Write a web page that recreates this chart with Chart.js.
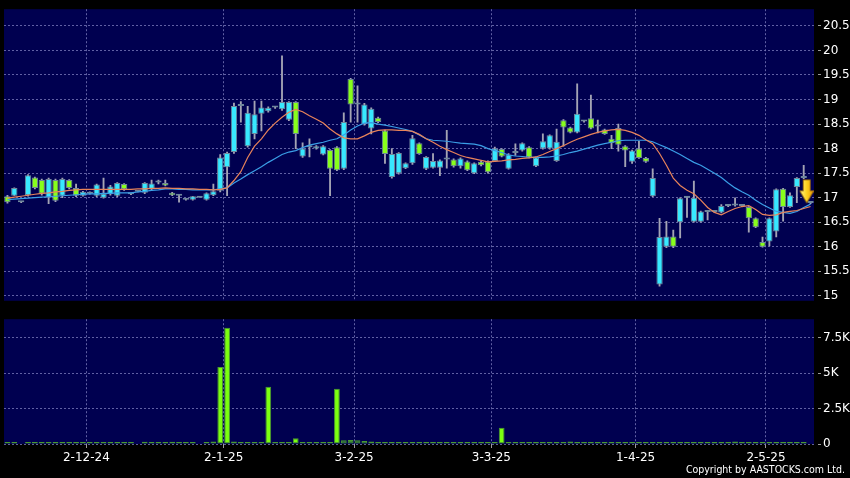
<!DOCTYPE html>
<html>
<head>
<meta charset="utf-8">
<script src="https://cdn.jsdelivr.net/npm/chart.js@4.4.1/dist/chart.umd.min.js"></script>
<style>
  html, body { margin: 0; padding: 0; background: #000; }
  body { width: 850px; height: 478px; position: relative; overflow: hidden; }
  #priceChart { position: absolute; left: 0; top: 0; }
  #volumeChart { position: absolute; left: 0; top: 310px; }
  #copyright {
    position: absolute; right: 5px; top: 463px;
    color: #fff; font: 10.5px 'DejaVu Sans Condensed', 'Liberation Sans Narrow', sans-serif;
  }
</style>
</head>
<body>
<canvas id="priceChart" width="850" height="310"></canvas>
<canvas id="volumeChart" width="850" height="168"></canvas>
<div id="copyright">Copyright by AASTOCKS.com Ltd.</div>
<script>
// daily candles
const opens = [
  17.03, 17.04, 16.91, 17.05, 17.41, 17.36, 17.00, 17.36, 17.04, 17.36,
  17.20, 17.04, 17.12, 17.04, 17.00, 17.07, 17.04, 17.28, 17.07, 17.12,
  17.10, 17.17, 17.31, 17.30, 17.10, 17.04, 16.96, 16.96, 17.00, 16.96,
  17.05, 17.14, 17.62, 17.93, 18.87, 18.05, 18.30, 18.71, 18.76, 18.84,
  18.80, 18.59, 18.95, 17.84, 18.03, 18.00, 17.88, 17.97, 18.03, 17.59,
  19.42, 18.90, 18.50, 18.41, 18.63, 18.37, 17.42, 17.50, 17.60, 17.70,
  18.11, 17.59, 17.61, 17.61, 17.78, 17.78, 17.64, 17.74, 17.50, 17.73,
  17.74, 17.75, 17.99, 17.59, 17.91, 17.96, 18.03, 17.64, 18.00, 18.00,
  17.75, 18.58, 18.43, 18.33, 18.55, 18.62, 18.45, 18.39, 18.20, 18.42,
  18.05, 17.73, 18.00, 17.81, 17.03, 15.23, 16.00, 16.21, 16.50, 17.00,
  16.51, 16.51, 16.71, 16.71, 16.70, 16.83, 16.84, 16.83, 16.81, 16.58,
  16.10, 16.11, 16.31, 17.18, 16.81, 17.22, 17.40, 16.89
];
const highs = [
  17.05, 17.20, 16.92, 17.47, 17.42, 17.38, 17.40, 17.38, 17.40, 17.37,
  17.28, 17.13, 17.12, 17.28, 17.40, 17.25, 17.31, 17.29, 17.09, 17.12,
  17.31, 17.36, 17.36, 17.36, 17.11, 17.05, 16.97, 17.03, 17.00, 17.10,
  17.28, 17.88, 17.93, 18.93, 18.96, 18.86, 18.97, 18.97, 18.85, 18.86,
  19.89, 18.96, 18.96, 18.12, 18.20, 18.06, 18.06, 17.98, 18.04, 18.73,
  19.43, 19.28, 18.92, 18.83, 18.64, 18.38, 18.00, 17.92, 17.71, 18.27,
  18.12, 17.84, 17.90, 17.77, 18.37, 17.79, 17.81, 17.75, 17.71, 17.74,
  17.75, 18.03, 18.00, 17.90, 18.10, 18.12, 18.04, 17.83, 18.30, 18.28,
  18.40, 18.59, 18.44, 19.32, 18.56, 19.09, 18.58, 18.40, 18.27, 18.50,
  18.06, 17.97, 18.15, 17.82, 17.59, 16.58, 16.52, 16.34, 17.00, 17.01,
  17.34, 16.73, 16.72, 16.72, 16.86, 16.84, 17.00, 16.84, 16.82, 16.59,
  16.20, 16.59, 17.18, 17.19, 17.10, 17.41, 17.66, 16.90
];
const lows = [
  16.89, 17.04, 16.90, 17.03, 17.18, 17.05, 16.88, 16.92, 17.00, 17.18,
  17.02, 17.03, 17.07, 17.02, 16.99, 17.05, 17.02, 17.15, 17.06, 17.12,
  17.08, 17.15, 17.28, 17.24, 17.04, 16.91, 16.95, 16.95, 17.00, 16.95,
  17.04, 17.12, 17.04, 17.90, 18.54, 18.03, 18.20, 18.36, 18.74, 18.82,
  18.78, 18.57, 18.00, 17.82, 17.83, 17.99, 17.87, 17.04, 17.55, 17.57,
  18.54, 18.54, 18.48, 18.30, 18.53, 17.70, 17.40, 17.48, 17.59, 17.68,
  17.88, 17.57, 17.60, 17.45, 17.60, 17.62, 17.60, 17.55, 17.49, 17.65,
  17.50, 17.74, 17.83, 17.58, 17.86, 17.95, 17.81, 17.63, 17.99, 17.99,
  17.74, 18.05, 18.32, 18.32, 18.54, 18.40, 18.32, 18.29, 18.00, 17.95,
  17.63, 17.70, 17.80, 17.72, 17.02, 15.20, 15.98, 15.98, 16.18, 16.60,
  16.50, 16.50, 16.55, 16.70, 16.69, 16.82, 16.83, 16.82, 16.30, 16.39,
  15.99, 16.02, 16.20, 16.52, 16.80, 16.90, 17.39, 16.88
];
const closes = [
  16.91, 17.20, 16.91, 17.46, 17.20, 17.08, 17.38, 16.94, 17.38, 17.20,
  17.04, 17.12, 17.08, 17.27, 17.08, 17.23, 17.30, 17.17, 17.07, 17.12,
  17.30, 17.29, 17.31, 17.25, 17.05, 17.04, 16.96, 17.03, 17.00, 17.09,
  17.13, 17.82, 17.91, 18.87, 18.87, 18.73, 18.70, 18.84, 18.83, 18.84,
  18.95, 18.95, 18.30, 18.00, 18.03, 18.05, 18.05, 17.59, 17.56, 18.54,
  18.90, 18.90, 18.90, 18.81, 18.54, 17.89, 17.89, 17.91, 17.70, 18.21,
  17.89, 17.83, 17.75, 17.76, 17.78, 17.64, 17.80, 17.56, 17.70, 17.66,
  17.52, 18.00, 17.84, 17.88, 17.91, 18.11, 17.82, 17.82, 18.15, 18.27,
  18.14, 18.43, 18.33, 18.71, 18.55, 18.41, 18.45, 18.30, 18.11, 18.08,
  17.96, 17.96, 17.81, 17.73, 17.40, 16.20, 16.21, 16.00, 16.99, 17.00,
  17.00, 16.72, 16.71, 16.71, 16.83, 16.83, 16.84, 16.83, 16.58, 16.40,
  16.00, 16.58, 17.17, 16.81, 17.05, 17.40, 17.44, 16.89
];
// moving averages as drawn on the picture
const maShort = [
  16.99, 17.01, 17.03, 17.05, 17.07, 17.09, 17.10, 17.12, 17.13, 17.15,
  17.16, 17.17, 17.17, 17.17, 17.17, 17.17, 17.17, 17.17, 17.17, 17.18,
  17.18, 17.19, 17.19, 17.20, 17.19, 17.19, 17.18, 17.18, 17.17, 17.17,
  17.16, 17.17, 17.20, 17.35, 17.53, 17.82, 18.05, 18.20, 18.38, 18.52,
  18.64, 18.74, 18.80, 18.75, 18.67, 18.60, 18.52, 18.40, 18.30, 18.22,
  18.20, 18.20, 18.26, 18.33, 18.37, 18.38, 18.38, 18.37, 18.37, 18.35,
  18.29, 18.20, 18.13, 18.05, 17.98, 17.92, 17.86, 17.82, 17.79, 17.76,
  17.73, 17.74, 17.75, 17.77, 17.78, 17.80, 17.81, 17.83, 17.88, 17.94,
  18.00, 18.06, 18.13, 18.19, 18.24, 18.29, 18.33, 18.36, 18.38, 18.39,
  18.37, 18.33, 18.27, 18.18, 18.10, 17.90, 17.66, 17.40, 17.25, 17.15,
  17.08, 16.95, 16.80, 16.70, 16.65, 16.72, 16.78, 16.82, 16.84, 16.76,
  16.66, 16.64, 16.65, 16.70, 16.72, 16.74, 16.78, 16.82
];
const maLong = [
  16.96, 16.97, 16.98, 16.99, 17.00, 17.01, 17.02, 17.03, 17.04, 17.05,
  17.06, 17.07, 17.08, 17.08, 17.09, 17.09, 17.10, 17.10, 17.10, 17.12,
  17.13, 17.15, 17.16, 17.18, 17.18, 17.17, 17.17, 17.16, 17.16, 17.16,
  17.16, 17.18, 17.20, 17.30, 17.38, 17.47, 17.55, 17.63, 17.72, 17.80,
  17.88, 17.93, 17.96, 18.02, 18.07, 18.10, 18.13, 18.17, 18.20, 18.28,
  18.38, 18.46, 18.52, 18.53, 18.50, 18.48, 18.45, 18.42, 18.39, 18.35,
  18.28, 18.20, 18.17, 18.16, 18.15, 18.13, 18.11, 18.10, 18.09, 18.06,
  18.00, 17.96, 17.92, 17.87, 17.85, 17.84, 17.82, 17.82, 17.82, 17.83,
  17.85, 17.88, 17.92, 17.95, 17.99, 18.03, 18.07, 18.10, 18.13, 18.16,
  18.17, 18.17, 18.17, 18.17, 18.14, 18.08, 18.02, 17.95, 17.88, 17.80,
  17.72, 17.66, 17.58, 17.50, 17.41, 17.30, 17.20, 17.12, 17.05, 16.95,
  16.86, 16.79, 16.72, 16.70, 16.68, 16.72, 16.80, 16.87
];
// volume in thousands of shares (null = nothing traded)
const volumes = [
  0.05, 0.08, null, 0.10, 0.03, 0.02, 0.02, 0.02, 0.02, 0.02,
  0.02, 0.02, 0.06, 0.06, 0.06, 0.02, 0.02, 0.03, 0.02, null,
  0.16, 0.02, 0.02, 0.03, 0.16, 0.02, 0.02, 0.03, null, 0.05,
  0.18, 5.45, 8.22, 0.18, 0.06, 0.04, 0.03, 0.05, 4.05, 0.03,
  0.10, 0.03, 0.40, 0.06, 0.06, 0.06, 0.07, 0.08, 3.90, 0.27,
  0.28, 0.27, 0.22, 0.17, 0.15, 0.12, 0.10, 0.03, 0.03, 0.10,
  0.05, 0.02, 0.06, 0.03, 0.03, 0.07, 0.02, 0.02, 0.02, 0.02,
  0.02, 0.03, 1.15, 0.02, 0.02, 0.02, 0.06, 0.07, 0.09, 0.10,
  0.13, 0.14, 0.18, 0.15, 0.12, 0.10, 0.08, 0.07, 0.03, 0.05,
  0.03, 0.03, 0.08, 0.04, 0.04, 0.07, 0.05, 0.05, 0.05, 0.03,
  0.03, 0.09, 0.02, 0.02, 0.03, 0.03, 0.18, 0.03, 0.03, 0.03,
  0.07, 0.03, 0.03, 0.03, 0.05, 0.09, 0.08, null
];
const tickIndex = [12, 32, 51, 71, 92, 111];
const tickLabels = ['2-12-24', '2-1-25', '3-2-25', '3-3-25', '1-4-25', '2-5-25'];
const priceTicks = [15, 15.5, 16, 16.5, 17, 17.5, 18, 18.5, 19, 19.5, 20, 20.5];
const volumeTicks = [0, 2.5, 5, 7.5];
const signalIndex = 116;
const signalValue = 17.13;

const days = opens.map((_, i) => i);
const UP = '#38e8ff', DOWN = '#88ff1c', FLAT = '#a8b0c0';
const bodyColors = opens.map((o, i) => closes[i] > o ? UP : closes[i] < o ? DOWN : FLAT);
const gridColor = 'rgba(120, 120, 185, 0.8)';
const labelFont = { family: 'DejaVu Sans', size: 12 };

const panelBg = {
  id: 'panelBg',
  beforeDraw(chart) {
    const a = chart.chartArea, c = chart.ctx;
    c.save();
    c.fillStyle = '#000050';
    c.fillRect(a.left, a.top, a.right - a.left, a.bottom - a.top);
    c.restore();
  }
};

const monthGrid = ctx => tickIndex.includes(ctx.index) ? gridColor : 'transparent';
const monthTick = ctx => tickIndex.includes(ctx.index) ? '#9a9a9a' : 'transparent';

function makeArrow() {
  const cv = document.createElement('canvas');
  cv.width = 20; cv.height = 26;
  const c = cv.getContext('2d');
  const cx = 13;
  const g = c.createLinearGradient(cx - 7, 0, cx + 7, 0);
  g.addColorStop(0, '#fff48a');
  g.addColorStop(0.5, '#ffd21f');
  g.addColorStop(1, '#e89400');
  c.fillStyle = g;
  c.strokeStyle = '#9a6a10';
  c.lineWidth = 1;
  c.beginPath();
  c.moveTo(cx - 3.5, 1.5); c.lineTo(cx + 3.5, 1.5); c.lineTo(cx + 3.5, 12.5);
  c.lineTo(cx + 7, 12.5); c.lineTo(cx, 24.5); c.lineTo(cx - 7, 12.5);
  c.lineTo(cx - 3.5, 12.5); c.closePath();
  c.fill(); c.stroke();
  return cv;
}

const baseOptions = {
  responsive: false,
  animation: false,
  events: [],
  plugins: { legend: { display: false }, tooltip: { enabled: false } }
};

new Chart(document.getElementById('priceChart'), {
  type: 'bar',
  data: {
    labels: days,
    datasets: [
      { type: 'line', data: days.map(i => i === signalIndex ? signalValue : null),
        pointStyle: makeArrow(), pointRadius: 10, showLine: false },
      { type: 'line', data: maShort, borderColor: '#e8835a', borderWidth: 1.2, pointRadius: 0 },
      { type: 'line', data: maLong, borderColor: '#3a9ee6', borderWidth: 1.2, pointRadius: 0 },
      { data: opens.map((o, i) => [o, closes[i]]), backgroundColor: bodyColors,
        borderColor: '#6f879c', borderWidth: 1, borderSkipped: false, grouped: false,
        barPercentage: 0.92, categoryPercentage: 1, minBarLength: 2 },
      { data: lows.map((l, i) => [l, highs[i]]), backgroundColor: '#a4a4b4',
        borderWidth: 0, grouped: false, barThickness: 1.2 }
    ]
  },
  options: {
    ...baseOptions,
    layout: { autoPadding: false, padding: { top: 5, left: 4, right: 0, bottom: 0 } },
    scales: {
      x: {
        grid: { offset: true, color: monthGrid, drawTicks: false },
        border: { display: false, dash: [2, 2] },
        ticks: { display: false, autoSkip: false },
        afterFit: s => { s.height = 0; }
      },
      y: {
        position: 'right', min: 14.9, max: 20.84,
        afterBuildTicks: s => { s.ticks = priceTicks.map(v => ({ value: v })); },
        afterFit: s => { s.width = 36; },
        grid: { color: gridColor, tickColor: '#9a9a9a', tickLength: 7, tickBorderDash: [0, 4, 3, 30] },
        border: { display: false, dash: [2, 2] },
        ticks: { color: '#fff', padding: 2, font: labelFont, callback: v => String(v) }
      }
    }
  },
  plugins: [panelBg]
});

new Chart(document.getElementById('volumeChart'), {
  type: 'bar',
  data: {
    labels: days,
    datasets: [{
      data: volumes,
      backgroundColor: ctx => (ctx.raw || 0) < 0.35 ? '#3f8f32' : '#7cff10',
      borderColor: '#4a9a30', borderWidth: 1, borderSkipped: false,
      barPercentage: 0.84, categoryPercentage: 1, minBarLength: 2
    }]
  },
  options: {
    ...baseOptions,
    layout: { autoPadding: false, padding: { top: 8, left: 4, right: 0, bottom: 0 } },
    scales: {
      x: {
        grid: { offset: true, color: monthGrid, tickColor: monthTick, tickLength: 4 },
        border: { display: false, dash: [2, 2] },
        ticks: {
          autoSkip: false, maxRotation: 0, color: '#fff', font: labelFont, padding: 3, labelOffset: -3.4,
          callback: (v, i) => { const j = tickIndex.indexOf(i); return j >= 0 ? tickLabels[j] : ''; }
        },
        afterFit: s => { s.height = 34; }
      },
      y: {
        position: 'right', min: 0, max: 8.82,
        afterBuildTicks: s => { s.ticks = volumeTicks.map(v => ({ value: v })); },
        afterFit: s => { s.width = 36; },
        grid: { color: gridColor, tickColor: '#9a9a9a', tickLength: 7, tickBorderDash: [0, 4, 3, 30] },
        border: { display: false, dash: [2, 2] },
        ticks: { color: '#fff', padding: 2, font: labelFont, callback: v => v === 0 ? '0' : v + 'K' }
      }
    }
  },
  plugins: [panelBg]
});
</script>
</body>
</html>
